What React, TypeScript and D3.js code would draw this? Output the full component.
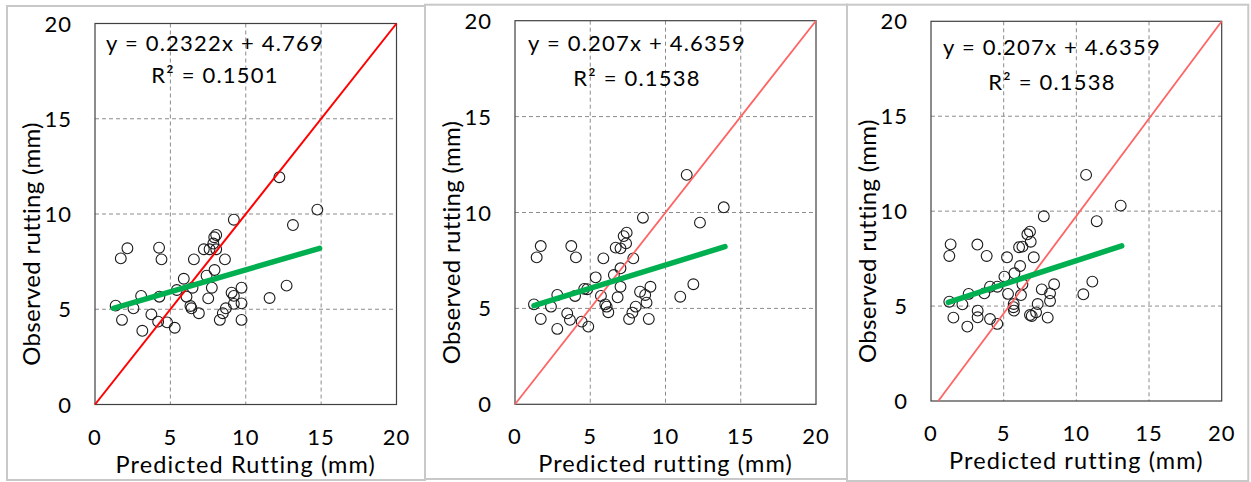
import * as d3 from 'd3';

// Predicted vs observed rutting (mm)
const pred1 = [12.23, 14.75, 13.13, 9.21, 8.04, 7.91, 7.22, 7.6, 8.04, 7.85, 2.15, 1.71, 4.25, 4.41, 6.56, 8.62, 7.93, 7.4, 5.89, 6.47, 7.75, 9.72, 5.43, 3.06, 4.27, 6.07, 7.51, 9.06, 9.21, 9.72, 9.21, 8.68, 8.48, 8.28, 9.72, 11.58, 12.71, 1.37, 2.55, 1.79, 3.74, 3.14, 4.19, 4.78, 5.29, 6.33, 6.4, 6.89];
const obs1 = [11.93, 10.23, 9.42, 9.7, 8.9, 8.78, 8.15, 8.15, 8.15, 8.45, 8.2, 7.67, 8.23, 7.62, 7.62, 7.62, 7.06, 6.76, 6.6, 6.13, 6.13, 6.13, 6.01, 5.7, 5.66, 5.66, 5.57, 5.87, 5.7, 5.31, 5.28, 5.05, 4.79, 4.44, 4.44, 5.59, 6.24, 5.19, 5.05, 4.44, 4.73, 3.87, 4.35, 4.31, 4.03, 5.17, 5.05, 4.79];

const pred2 = [11.41, 13.87, 12.29, 8.5, 7.42, 7.22, 6.69, 7.01, 7.38, 1.71, 1.44, 3.74, 4.05, 5.87, 7.86, 7.01, 6.57, 5.36, 7.01, 9.0, 4.8, 2.81, 3.99, 5.71, 6.82, 8.31, 8.65, 8.74, 8.02, 7.8, 7.58, 8.89, 10.98, 11.85, 1.26, 2.39, 1.71, 3.47, 2.81, 3.65, 4.43, 4.87, 6.0, 6.09, 6.2, 4.6];
const obs2 = [11.96, 10.27, 9.47, 9.73, 8.95, 8.77, 8.17, 8.13, 8.39, 8.25, 7.66, 8.25, 7.66, 7.61, 7.61, 7.09, 6.74, 6.62, 6.13, 6.13, 6.0, 5.7, 5.65, 5.65, 5.58, 5.87, 5.7, 5.3, 5.09, 4.78, 4.45, 4.45, 5.61, 6.26, 5.21, 5.09, 4.45, 4.74, 3.93, 4.4, 4.31, 4.05, 5.21, 5.09, 4.8, 6.02];

const pred3 = [10.67, 13.05, 11.4, 7.76, 6.81, 6.63, 6.06, 6.29, 6.86, 1.35, 1.26, 3.19, 3.83, 5.23, 7.07, 6.13, 5.74, 5.05, 6.29, 8.47, 4.06, 2.59, 3.67, 5.3, 6.19, 7.62, 8.19, 8.19, 7.34, 7.23, 6.93, 8.03, 10.48, 11.1, 1.26, 2.16, 1.54, 3.21, 2.5, 3.21, 4.06, 4.56, 5.69, 5.67, 5.71, 6.81, 4.56];
const obs3 = [11.91, 10.29, 9.47, 9.73, 8.92, 8.78, 8.1, 8.13, 8.39, 8.25, 7.64, 8.24, 7.64, 7.57, 7.57, 7.11, 6.73, 6.55, 6.15, 6.15, 6.02, 5.64, 5.67, 5.64, 5.58, 5.88, 5.67, 5.27, 5.11, 4.67, 4.48, 4.39, 5.62, 6.29, 5.23, 5.09, 4.39, 4.76, 3.92, 4.41, 4.32, 4.06, 5.11, 4.94, 4.76, 4.53, 6.02];

// trend lines as drawn in the picture: [start, end]
const trend1 = [[1.22, 5.05], [14.9, 8.2]];
const trend2 = [[1.26, 5.14], [13.95, 8.22]];
const trend3 = [[1.19, 5.2], [13.12, 8.17]];

const eqLabels = ['y = 0.2322x + 4.769', 'y = 0.207x + 4.6359', 'y = 0.207x + 4.6359'];
const r2Labels = ['R² = 0.1501', 'R² = 0.1538', 'R² = 0.1538'];
const xTitles = ['Predicted Rutting (mm)', 'Predicted rutting (mm)', 'Predicted rutting (mm)'];
const yTitle = 'Observed rutting (mm)';

// 1:1 reference line ends
const diag1 = [[0, 0], [20, 20]];
const diag2 = [[0, 0], [20, 20]];
const diag3 = [[0.5, 0], [20, 20]];

const ticks = [0, 5, 10, 15, 20];

const FONT = 'Lato, "Open Sans", sans-serif';

const panels = [
  { pred: pred1, obs: obs1, trend: trend1, diag: diag1, red: '#ff0000', redW: 2,
    frame: { x: 7, y: 6, w: 418, h: 474 }, plot: { l: 95, t: 23.5, r: 396.5, b: 404.5 },
    eqY: [19.5, 51.5], eqX: 120 },
  { pred: pred2, obs: obs2, trend: trend2, diag: diag2, red: '#ff6464', redW: 1.8,
    frame: { x: 425, y: 4.7, w: 422, h: 474.3 }, plot: { l: 515, t: 20.7, r: 816, b: 404.3 },
    eqY: [22, 57], eqX: 122 },
  { pred: pred3, obs: obs3, trend: trend3, diag: diag3, red: '#ff6464', redW: 1.8,
    frame: { x: 847, y: 4.7, w: 401.3, h: 476.3 }, plot: { l: 931, t: 21.3, r: 1221.7, b: 401 },
    eqY: [26, 61], eqX: 121 },
];

function Panel({ p, i }: { p: any; i: number }) {
  const { plot } = p;
  const x = d3.scaleLinear().domain([0, 20]).range([plot.l, plot.r]);
  const y = d3.scaleLinear().domain([0, 20]).range([plot.b, plot.t]);
  const line = d3.line<number[]>().x(d => x(d[0])).y(d => y(d[1]));
  const inner = ticks.slice(1, -1);
  const cx = (plot.l + plot.r) / 2;

  return (
    <g>
      <rect x={p.frame.x} y={p.frame.y} width={p.frame.w} height={p.frame.h}
        fill="#fff" stroke="#c8c8c8" strokeWidth={2} />
      {inner.map(t => (
        <line key={'gx' + t} x1={x(t)} x2={x(t)} y1={plot.t} y2={plot.b}
          stroke="#8c8c8c" strokeDasharray="4,3" />
      ))}
      {inner.map(t => (
        <line key={'gy' + t} x1={plot.l} x2={plot.r} y1={y(t)} y2={y(t)}
          stroke="#8c8c8c" strokeDasharray="4,3" />
      ))}
      <rect x={plot.l} y={plot.t} width={plot.r - plot.l} height={plot.b - plot.t}
        fill="none" stroke="#404040" strokeWidth={1.2} />
      <text x={plot.l + p.eqX} y={plot.t + p.eqY[0] + 8} textAnchor="middle"
        fontSize={22} letterSpacing={1.2} fill="#000">{eqLabels[i]}</text>
      <text x={plot.l + p.eqX} y={plot.t + p.eqY[1] + 8} textAnchor="middle"
        fontSize={22} letterSpacing={1.2} fill="#000">{r2Labels[i]}</text>
      {p.pred.map((v: number, k: number) => (
        <circle key={k} cx={x(v)} cy={y(p.obs[k])} r={5.4} fill="none"
          stroke="#1a1a1a" strokeWidth={1.1} />
      ))}
      <path d={line(p.diag) || ''} fill="none" stroke={p.red} strokeWidth={p.redW} />
      <path d={line(p.trend) || ''} fill="none" stroke="#00b050" strokeWidth={5.5}
        strokeLinecap="round" />
      {ticks.map(t => (
        <text key={'xt' + t} x={x(t)} y={plot.b + 40} textAnchor="middle"
          fontSize={22} letterSpacing={1} fill="#000">{t}</text>
      ))}
      {ticks.map(t => (
        <text key={'yt' + t} x={plot.l - 23} y={y(t) + 8} textAnchor="end"
          fontSize={22} letterSpacing={1} fill="#000">{t}</text>
      ))}
      <text x={cx} y={plot.b + 68} textAnchor="middle" fontSize={23.5}
        letterSpacing={1.1} fill="#000">{xTitles[i]}</text>
      <text transform={`translate(${plot.l - 55},${(plot.t + plot.b) / 2 + 30}) rotate(-90)`}
        textAnchor="middle" fontSize={24} letterSpacing={0.3} fill="#000">{yTitle}</text>
    </g>
  );
}

export default function App() {
  return (
    <svg width={1251} height={482} style={{ position: 'absolute', left: 0, top: 0, background: '#fff' }}
      fontFamily={FONT}>
      <rect x={0} y={0} width={1251} height={482} fill="#fff" />
      {panels.map((p, i) => <Panel key={i} p={p} i={i} />)}
    </svg>
  );
}
